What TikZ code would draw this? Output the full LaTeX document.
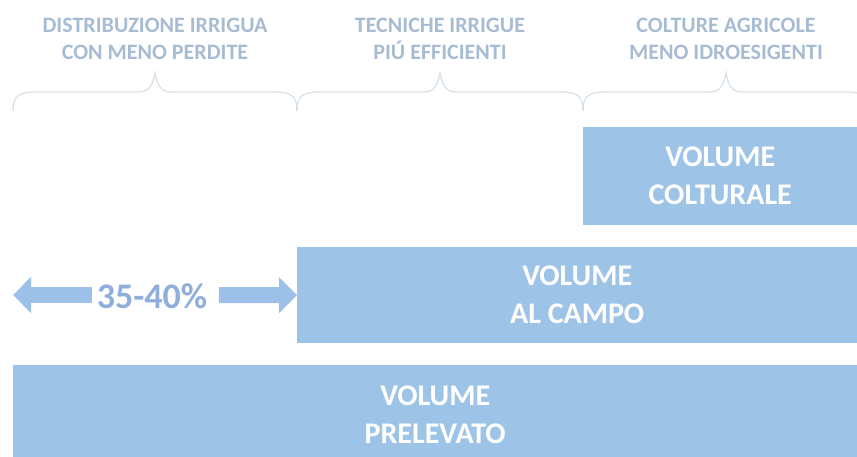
\documentclass[tikz,border=0pt]{standalone}
\usepackage{fontspec}
\setmainfont{Carlito}
\usetikzlibrary{arrows.meta}
\definecolor{boxblue}{HTML}{9DC3E6}
\definecolor{arrblue}{HTML}{9CC0E8}
\definecolor{pctblue}{HTML}{8FAEDB}
\definecolor{headgray}{HTML}{A7BCD3}
\definecolor{bracegray}{HTML}{D8E0E8}
\tikzset{
  volbox/.style={fill=boxblue, draw=none, text=white, align=center, inner sep=0pt,
    font=\fontsize{30}{38}\selectfont\bfseries},
  headtext/.style={text=headgray, align=center, inner sep=0pt,
    font=\fontsize{22}{27}\selectfont\bfseries},
  bracepath/.style={draw=bracegray, line width=1.3pt},
  fatarrow/.style={draw=arrblue, line width=16pt, -{Triangle[length=18pt,width=35pt]}},
}
\begin{document}
\begin{tikzpicture}[x=1pt,y=-1pt]
\useasboundingbox (0,0) rectangle (857,457);
\clip (0,0) rectangle (857,457);
% header texts
\node[headtext] (h1) at (155,38.7) {DISTRIBUZIONE IRRIGUA\\CON MENO PERDITE};
\node[headtext] (h2) at (440,38.7) {TECNICHE IRRIGUE\\PIÚ EFFICIENTI};
\node[headtext] (h3) at (726,38.7) {COLTURE AGRICOLE\\MENO IDROESIGENTI};
% braces
\foreach \a/\m/\b in {13/155/297, 297/440/583, 583/726/869}{
  \draw[bracepath] (\a,111) .. controls (\a,97) and (\a+5,92) .. (\a+22,92)
    -- (\m-16,92) .. controls (\m-6,92) and (\m-2,85) .. (\m,73)
    .. controls (\m+2,85) and (\m+6,92) .. (\m+16,92)
    -- (\b-22,92) .. controls (\b-5,92) and (\b,97) .. (\b,111);
}
% boxes
\node[volbox, anchor=north west, minimum width=274pt, minimum height=98pt] (colt) at (583,127) {VOLUME\\COLTURALE};
\node[volbox, anchor=north west, minimum width=560pt, minimum height=96pt] (campo) at (297,247) {VOLUME\\AL CAMPO};
\node[volbox, anchor=north west, minimum width=844pt, minimum height=100pt] (prel) at (13,365) {VOLUME\\PRELEVATO};
% percentage arrow
\node[text=pctblue, inner sep=0pt, font=\fontsize{36}{42}\selectfont\bfseries] (pct) at (152,296) {35-40\%};
\coordinate (lstart) at (92,295);
\coordinate (lend) at (13,295);
\coordinate (rstart) at (219,295);
\draw[fatarrow] (lstart) -- (lend);
\draw[fatarrow] (rstart) -- (campo.west);
\end{tikzpicture}
\end{document}
